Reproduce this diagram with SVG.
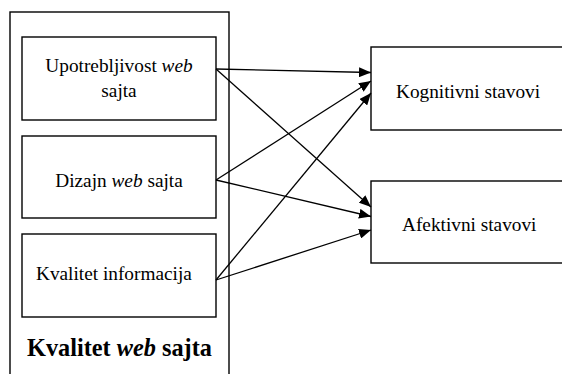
<svg xmlns="http://www.w3.org/2000/svg" width="562" height="374" viewBox="0 0 562 374">
<defs>
<style>
.box{fill:#fff;stroke:#000;stroke-width:1.4}
.c{stroke:#000;stroke-width:1.3;fill:none}
</style>
<marker id="ah" viewBox="0 0 12 10" refX="12" refY="5" markerWidth="12" markerHeight="10" markerUnits="userSpaceOnUse" orient="auto">
<path d="M0,0 L12,5 L0,10 Z" fill="#000"/>
</marker>
</defs>
<rect width="562" height="374" fill="#fff"/>
<g font-family="'Liberation Serif', 'Times New Roman', serif" font-size="19.3" fill="#000">
<g id="outer">
<rect class="box" x="10" y="12" width="219" height="370"/>
<text x="119.5" y="356" text-anchor="middle" font-size="24.3" font-weight="bold">Kvalitet <tspan font-style="italic">web</tspan> sajta</text>
</g>
<g id="upotrebljivost">
<rect class="box" x="22" y="37" width="194" height="83"/>
<text x="119" y="72" text-anchor="middle">Upotrebljivost <tspan font-style="italic">web</tspan></text>
<text x="119" y="97" text-anchor="middle">sajta</text>
</g>
<g id="dizajn">
<rect class="box" x="22" y="136" width="194" height="82"/>
<text x="119" y="187" text-anchor="middle">Dizajn <tspan font-style="italic">web</tspan> sajta</text>
</g>
<g id="informacija">
<rect class="box" x="22" y="234" width="194" height="83"/>
<text x="36" y="280">Kvalitet informacija</text>
</g>
<g id="kognitivni">
<rect class="box" x="371" y="47" width="200" height="83"/>
<text x="396" y="98">Kognitivni stavovi</text>
</g>
<g id="afektivni">
<rect class="box" x="371" y="181" width="200" height="82"/>
<text x="402" y="231">Afektivni stavovi</text>
</g>
</g>
<g id="connectors">
<line class="c" x1="216" y1="69" x2="371" y2="72.5" marker-end="url(#ah)"/>
<line class="c" x1="216" y1="69" x2="371" y2="207" marker-end="url(#ah)"/>
<line class="c" x1="216" y1="180" x2="371" y2="81" marker-end="url(#ah)"/>
<line class="c" x1="216" y1="180" x2="371" y2="216.5" marker-end="url(#ah)"/>
<line class="c" x1="216" y1="280" x2="371" y2="93" marker-end="url(#ah)"/>
<line class="c" x1="216" y1="280" x2="371" y2="230" marker-end="url(#ah)"/>
</g>
</svg>
